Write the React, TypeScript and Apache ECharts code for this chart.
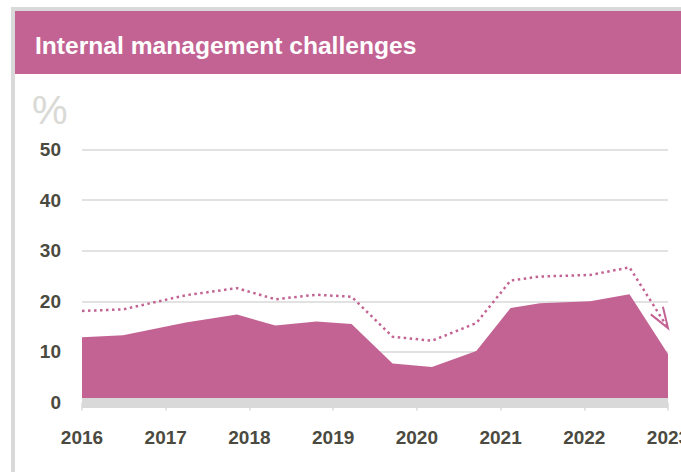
import React, { useEffect, useRef } from "react";
import * as echarts from "echarts";

const TITLE = "Internal management challenges";
const UNIT = "%";
const PINK = "#c36393";
const GREY = "#d9d9d9";
const LABEL = "#4b4a40";
const FONT = '"Liberation Sans", Arial, sans-serif';

// survey waves (fractional year positions)
const waves = [2016.0, 2016.49, 2017.24, 2017.85, 2018.31, 2018.8, 2019.22, 2019.71, 2020.18, 2020.71, 2021.12, 2021.47, 2022.07, 2022.54, 2023.0];
// filled area series (%)
const areaValues = [12.9, 13.3, 15.8, 17.4, 15.2, 16.0, 15.5, 7.7, 7.0, 10.2, 18.7, 19.6, 20.0, 21.4, 9.6];
// dotted comparison series (%)
const dottedValues = [18.1, 18.4, 21.2, 22.6, 20.4, 21.3, 20.9, 13.0, 12.2, 15.7, 24.1, 24.9, 25.2, 26.7, 14.7];
const yearTicks = [2016, 2017, 2018, 2019, 2020, 2021, 2022, 2023];
const yTicks = [0, 10, 20, 30, 40, 50];

export default function App() {
  const ref = useRef<HTMLDivElement>(null);
  useEffect(() => {
    if (!ref.current) return;
    const chart = echarts.init(ref.current, undefined, { renderer: "svg" });
    const n = waves.length;
    const arrowData = [[waves[n - 2], dottedValues[n - 2], waves[n - 1], dottedValues[n - 1]]];
    chart.setOption({
      animation: false,
      backgroundColor: "#ffffff",
      grid: { left: 82, right: 13, top: 149.5, bottom: 69.5, containLabel: false, outerBoundsMode: "none" },
      xAxis: {
        type: "value",
        min: yearTicks[0],
        max: yearTicks[yearTicks.length - 1],
        interval: 1,
        offset: 2.5,
        z: 5,
        splitLine: { show: false },
        axisLine: { show: true, lineStyle: { color: GREY, width: 10, cap: "butt" } },
        axisTick: { show: true, length: 8, lineStyle: { color: GREY, width: 1.5 } },
        axisLabel: {
          formatter: (v: number) => String(v),
          color: LABEL,
          fontWeight: "bold",
          fontSize: 19,
          fontFamily: FONT,
          margin: 23,
          hideOverlap: false,
        },
      },
      yAxis: {
        type: "value",
        min: yTicks[0],
        max: yTicks[yTicks.length - 1],
        interval: 10,
        axisLine: { show: false },
        axisTick: { show: false },
        splitLine: { lineStyle: { color: GREY, width: 1.5 } },
        axisLabel: {
          color: LABEL,
          fontWeight: "bold",
          fontSize: 19,
          fontFamily: FONT,
          margin: 21,
        },
      },
      graphic: [
        { type: "rect", shape: { x: 11, y: 7, width: 670, height: 4 }, style: { fill: GREY }, silent: true },
        { type: "rect", shape: { x: 11, y: 7, width: 4, height: 465 }, style: { fill: GREY }, silent: true },
        { type: "rect", shape: { x: 15, y: 11, width: 666, height: 63 }, style: { fill: PINK }, silent: true },
        {
          type: "text",
          x: 35,
          y: 45,
          style: {
            text: TITLE,
            fill: "#ffffff",
            font: `bold 24.6px ${FONT}`,
            textVerticalAlign: "middle",
            verticalAlign: "middle",
          },
          silent: true,
        },
        {
          type: "text",
          x: 32,
          y: 110,
          style: {
            text: UNIT,
            fill: "#d9d9d5",
            font: `40px ${FONT}`,
            textVerticalAlign: "middle",
            verticalAlign: "middle",
          },
          silent: true,
        },
      ],
      series: [
        {
          type: "line",
          data: waves.map((x, i) => [x, areaValues[i]]),
          symbol: "none",
          lineStyle: { width: 0 },
          areaStyle: { color: PINK, opacity: 1 },
          itemStyle: { color: PINK },
          z: 2,
        },
        {
          type: "line",
          data: waves.map((x, i) => [x, dottedValues[i]]),
          symbol: "none",
          lineStyle: { color: PINK, width: 2.5, type: [2.5, 3.5] },
          itemStyle: { color: PINK },
          z: 3,
        },
        {
          type: "custom",
          data: arrowData,
          encode: { x: [0, 2], y: [1, 3] },
          z: 4,
          renderItem: (params: any, api: any) => {
            const p0 = api.coord([api.value(0), api.value(1)]);
            const p1 = api.coord([api.value(2), api.value(3)]);
            const dx = p1[0] - p0[0];
            const dy = p1[1] - p0[1];
            const len = Math.hypot(dx, dy);
            const ux = -dx / len;
            const uy = -dy / len;
            const L = 22;
            const a = (19 * Math.PI) / 180;
            const rot = (ang: number) => [
              p1[0] + L * (ux * Math.cos(ang) - uy * Math.sin(ang)),
              p1[1] + L * (ux * Math.sin(ang) + uy * Math.cos(ang)),
            ];
            return {
              type: "polyline",
              shape: { points: [rot(a), p1, rot(-a)] },
              style: { stroke: PINK, lineWidth: 2, fill: "none" },
            };
          },
        },
      ],
    });
    return () => chart.dispose();
  }, []);
  return (
    <div
      ref={ref}
      style={{ position: "fixed", left: 0, top: 0, width: 681, height: 472, background: "#fff" }}
    />
  );
}
